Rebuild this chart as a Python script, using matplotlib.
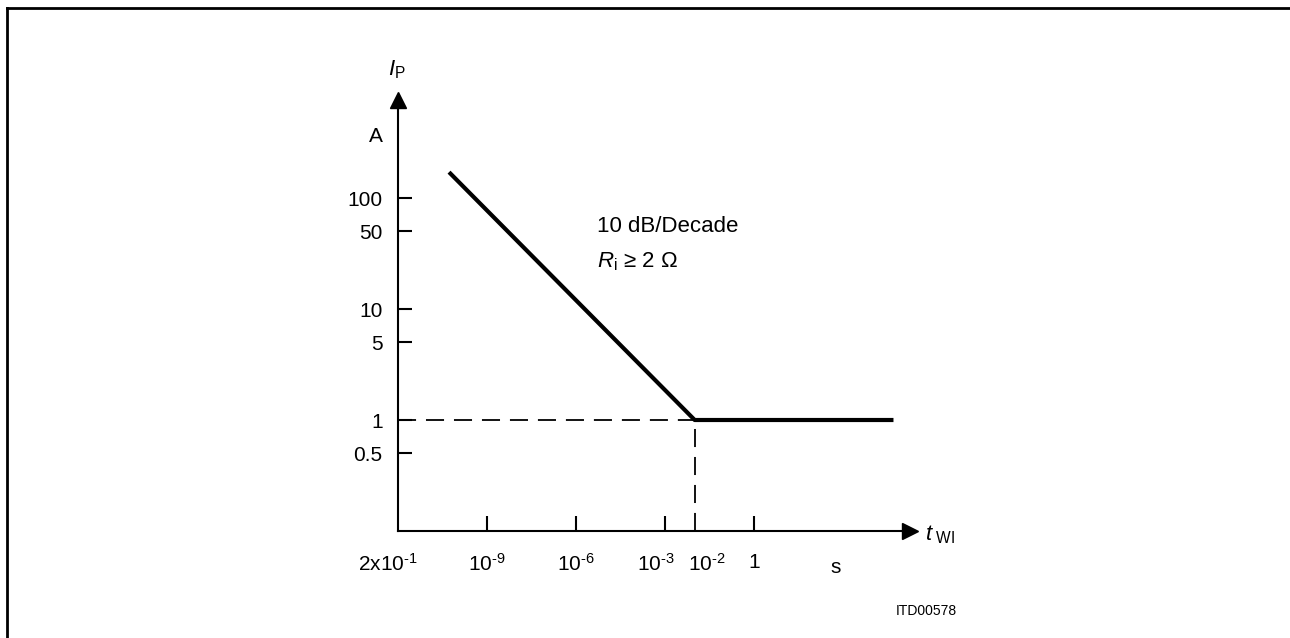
import matplotlib
matplotlib.use('Agg')
import matplotlib.pyplot as plt
import matplotlib.transforms as mtransforms

plt.rcParams['font.family'] = ['Liberation Sans', 'DejaVu Sans']
plt.rcParams['mathtext.fontset'] = 'custom'
plt.rcParams['mathtext.rm'] = 'Liberation Sans'
plt.rcParams['mathtext.it'] = 'Liberation Sans:italic'

# data (schematic curve: pulse current vs. pulse width)
t_wi = [10**-10.28, 1e-2, 5e4]
i_p = [171, 1, 1]
knee_t = 1e-2
knee_i = 1

x_ticks = [1e-12, 1e-9, 1e-6, 1e-3, 1e-2, 1]
x_labels = [r'2x10$^{\text{-1}}$', r'10$^{\text{-9}}$', r'10$^{\text{-6}}$',
            r'10$^{\text{-3}}$', r'10$^{\text{-2}}$', '1']
y_ticks = [100, 50, 10, 5, 1, 0.5]
y_labels = ['100', '50', '10', '5', '1', '0.5']

fs = 15

W, H = 1290, 638
fig = plt.figure(figsize=(W / 100, H / 100), dpi=100)

# outer frame (top + left)
fig.add_artist(plt.Line2D([7 / W, 7 / W], [0, 1 - 8 / H], color='black', lw=2))
fig.add_artist(plt.Line2D([7 / W, 1], [1 - 8 / H, 1 - 8 / H], color='black', lw=2))

ax = fig.add_axes([398 / W, (H - 531) / H, 512 / W, 431 / H])
ax.set_xscale('log')
ax.set_yscale('log')
ax.set_xlim(1e-12, 10**5.256)
ax.set_ylim(0.1, 10**2.883)
ax.patch.set_alpha(0)

for s in ['top', 'right']:
    ax.spines[s].set_visible(False)
for s in ['left', 'bottom']:
    ax.spines[s].set_linewidth(1.5)

# arrow heads on axes
ax.plot([0], [1], marker='^', ms=11, color='black', transform=ax.transAxes, clip_on=False)
ax.plot([1], [0], marker='>', ms=11, color='black', transform=ax.transAxes, clip_on=False)

ax.set_xticks(x_ticks)
ax.set_xticklabels(x_labels)
ax.set_yticks(y_ticks)
ax.set_yticklabels(y_labels)
ax.xaxis.set_minor_locator(matplotlib.ticker.NullLocator())
ax.yaxis.set_minor_locator(matplotlib.ticker.NullLocator())
ax.tick_params(axis='x', direction='in', length=11, width=1.5, pad=16, labelsize=fs)
ax.tick_params(axis='y', direction='in', length=10, width=1.5, pad=11, labelsize=fs)
xt = ax.xaxis.get_major_ticks()
xt[0].tick1line.set_visible(False)
xt[4].tick1line.set_visible(False)

# nudge the crowded 10^-3 / 10^-2 labels apart like in the original
for lab, dx in zip(ax.get_xticklabels(), [-10, 0, 0, -9, 12, 0]):
    if dx:
        lab.set_transform(lab.get_transform() +
                          mtransforms.ScaledTranslation(dx / 100, 0, fig.dpi_scale_trans))

# dashed guide lines to the knee
ax.plot([1e-12, knee_t], [knee_i, knee_i], color='black', lw=1.3, ls=(0, (10, 5.5)))
ax.plot([knee_t, knee_t], [0.1, knee_i], color='black', lw=1.3, ls=(0, (10, 5.5)))

# curve
ax.plot(t_wi, i_p, color='black', lw=3, solid_capstyle='butt')

ax.text(10**-5.29, 10**1.739, '10 dB/Decade', fontsize=fs + 1, va='center', ha='left')
ax.text(10**-5.29, 10**1.423, r'$R_{\rm i}$ ≥ 2 Ω', fontsize=fs + 1, va='center', ha='left')

# unit and axis labels
ax.text(10**2.76, 10**-1.24, 's', fontsize=fs, ha='center', va='top', clip_on=False)
fig.text(383 / W, 1 - 137 / H, 'A', fontsize=fs, ha='right', va='center')
fig.text(397 / W, 1 - 70 / H, r'$I_{\rm P}$', fontsize=fs + 1, ha='center', va='center')
fig.text(925 / W, 1 - 535 / H, r'$t_{\rm \ WI}$', fontsize=fs + 1, ha='left', va='center')
fig.text(957 / W, 1 - 611 / H, 'ITD00578', fontsize=10, ha='right', va='center')

fig.savefig('out.png', dpi=100)
